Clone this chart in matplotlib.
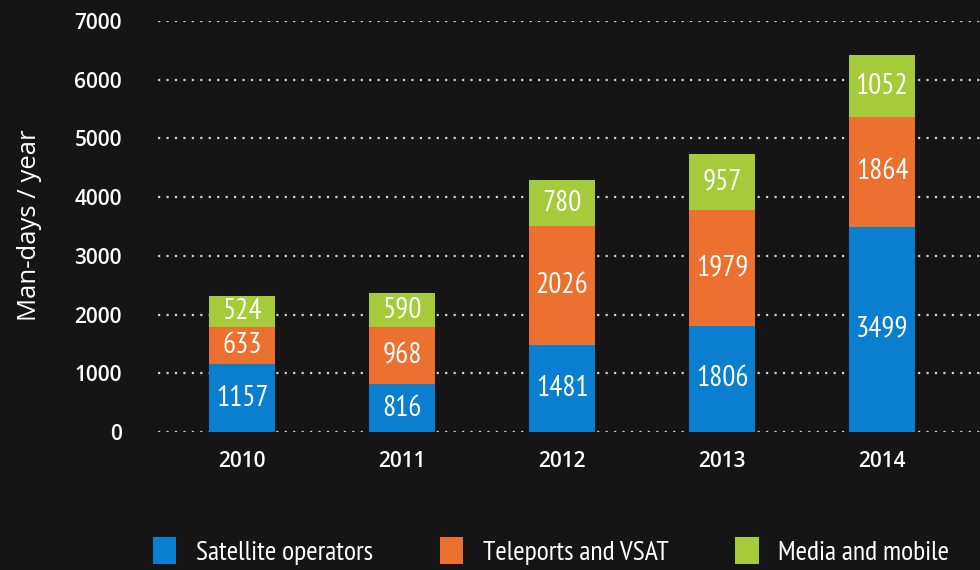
import matplotlib
matplotlib.use("Agg")
import matplotlib.pyplot as plt
from matplotlib import font_manager
import numpy as np

years = ["2010", "2011", "2012", "2013", "2014"]
satellite = [1157, 816, 1481, 1806, 3499]
teleports = [633, 968, 2026, 1979, 1864]
media = [524, 590, 780, 957, 1052]
series_names = ["Satellite operators", "Teleports and VSAT", "Media and mobile"]
colors = ["#0a7fcf", "#ec7131", "#a6cb3a"]
yticks = [0, 1000, 2000, 3000, 4000, 5000, 6000, 7000]

avail = {f.name for f in font_manager.fontManager.ttflist}
narrow = "Open Sans"
for cand in ["PT Sans Narrow", "Roboto Condensed", "Open Sans Condensed", "Barlow Semi Condensed", "Sofia Sans Semi Condensed"]:
    if cand in avail:
        narrow = cand
        break

bg = "#151515"
fig = plt.figure(figsize=(9.8, 5.7), dpi=100, facecolor=bg)
ax = fig.add_axes([158/980, 1-432/570, 1-158/980, (432-21)/570])
ax.set_facecolor(bg)

x = np.arange(len(years))
w = 0.4125
bottoms = np.zeros(len(years))
for vals, c, name in zip([satellite, teleports, media], colors, series_names):
    vals = np.array(vals)
    ax.bar(x, vals, w, bottom=bottoms, color=c, label=name, zorder=3, linewidth=0)
    for xi, b, v in zip(x, bottoms, vals):
        ax.text(xi, b + v/2, str(v), ha="center", va="center", color="white",
                fontsize=21, family=narrow, zorder=4)
    bottoms = bottoms + vals

ax.set_xlim(-0.525, 4.6125)
ax.set_ylim(0, 7000)
ax.set_yticks(yticks)
ax.set_yticklabels([str(t) for t in yticks], color="white", fontsize=15,
                   family="Open Sans", weight="semibold")
ax.set_xticks(x)
ax.set_xticklabels(years, color="white", fontsize=15, family="Open Sans", weight="semibold")
ax.tick_params(axis="both", length=0)
ax.tick_params(axis="y", pad=26)
ax.tick_params(axis="x", pad=14)
for y in yticks:
    ax.axhline(y, color="#cfcfcf", linestyle=(0, (1, 2.8)), linewidth=1.6, zorder=1)
for s in ax.spines.values():
    s.set_visible(False)

fig.text(30/980, 1-225/570, "Man-days / year", rotation=90, ha="center", va="center",
         color="white", fontsize=18.5, family="Open Sans")

leg = fig.legend(loc="center", bbox_to_anchor=(551/980, 1-551/570), ncol=3, frameon=False,
                 prop={"family": narrow, "size": 20}, labelcolor="white",
                 handlelength=0.85, handleheight=1.1, columnspacing=2.4, handletextpad=0.7)

fig.savefig("out.png", dpi=100, facecolor=bg)
